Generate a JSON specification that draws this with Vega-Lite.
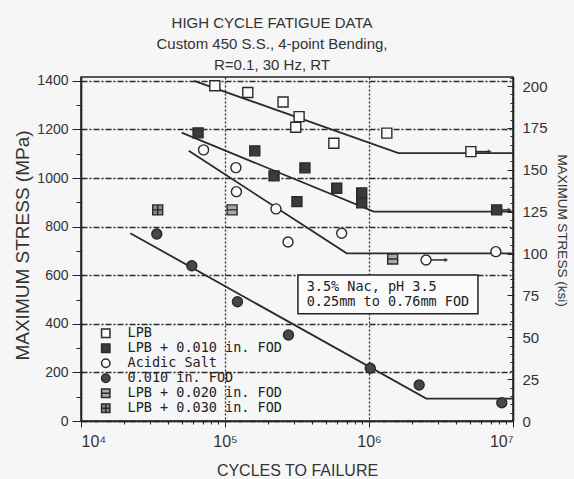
{
  "$schema": "https://vega.github.io/schema/vega-lite/v6.json",
  "width": 432,
  "height": 344,
  "autosize": {"type": "none"},
  "padding": {"left": 81, "top": 77, "right": 61, "bottom": 58},
  "background": "#f6f6f6",
  "config": {
    "font": "Liberation Sans",
    "view": {"stroke": "#222", "strokeWidth": 1.5},
    "axis": {"labelColor": "#333", "titleColor": "#333", "tickColor": "#222", "domainColor": "#222", "domainWidth": 1.5, "titleFontWeight": "normal", "labelFont": "Liberation Sans", "titleFont": "Liberation Sans"}
  },
  "title": {
    "text": ["HIGH CYCLE FATIGUE DATA", "Custom 450 S.S., 4-point Bending,", "R=0.1, 30 Hz, RT"],
    "fontSize": 15,
    "fontWeight": "normal",
    "font": "Liberation Sans",
    "color": "#333",
    "lineHeight": 21,
    "anchor": "middle",
    "frame": "group",
    "dx": -25,
    "offset": 1
  },
  "datasets": {
    "points": [
      {"series": "LPB", "cycles": 85000, "mpa": 1380},
      {"series": "LPB", "cycles": 144000, "mpa": 1352},
      {"series": "LPB", "cycles": 253000, "mpa": 1313},
      {"series": "LPB", "cycles": 327000, "mpa": 1253},
      {"series": "LPB", "cycles": 310000, "mpa": 1209},
      {"series": "LPB", "cycles": 570000, "mpa": 1143},
      {"series": "LPB", "cycles": 1330000, "mpa": 1185},
      {"series": "LPB", "cycles": 5100000, "mpa": 1109},
      {"series": "LPB + 0.010 in. FOD", "cycles": 65000, "mpa": 1186},
      {"series": "LPB + 0.010 in. FOD", "cycles": 161000, "mpa": 1112},
      {"series": "LPB + 0.010 in. FOD", "cycles": 219000, "mpa": 1009},
      {"series": "LPB + 0.010 in. FOD", "cycles": 359000, "mpa": 1042},
      {"series": "LPB + 0.010 in. FOD", "cycles": 316000, "mpa": 903},
      {"series": "LPB + 0.010 in. FOD", "cycles": 597000, "mpa": 958},
      {"series": "LPB + 0.010 in. FOD", "cycles": 890000, "mpa": 939},
      {"series": "LPB + 0.010 in. FOD", "cycles": 890000, "mpa": 898},
      {"series": "LPB + 0.010 in. FOD", "cycles": 7700000, "mpa": 869},
      {"series": "Acidic Salt", "cycles": 71000, "mpa": 1116},
      {"series": "Acidic Salt", "cycles": 119000, "mpa": 1043},
      {"series": "Acidic Salt", "cycles": 120000, "mpa": 944},
      {"series": "Acidic Salt", "cycles": 226000, "mpa": 873},
      {"series": "Acidic Salt", "cycles": 274000, "mpa": 737},
      {"series": "Acidic Salt", "cycles": 646000, "mpa": 773},
      {"series": "Acidic Salt", "cycles": 2490000, "mpa": 663},
      {"series": "Acidic Salt", "cycles": 7600000, "mpa": 697},
      {"series": "0.010 in. FOD", "cycles": 33600, "mpa": 770},
      {"series": "0.010 in. FOD", "cycles": 58800, "mpa": 639},
      {"series": "0.010 in. FOD", "cycles": 122000, "mpa": 491},
      {"series": "0.010 in. FOD", "cycles": 276000, "mpa": 354},
      {"series": "0.010 in. FOD", "cycles": 1020000, "mpa": 217},
      {"series": "0.010 in. FOD", "cycles": 2230000, "mpa": 148},
      {"series": "0.010 in. FOD", "cycles": 8360000, "mpa": 75},
      {"series": "LPB + 0.020 in. FOD", "cycles": 112000, "mpa": 869},
      {"series": "LPB + 0.020 in. FOD", "cycles": 1460000, "mpa": 667},
      {"series": "LPB + 0.030 in. FOD", "cycles": 34100, "mpa": 869}
    ],
    "lines": [
      {"line": "LPB", "ord": 1, "cycles": 61000, "mpa": 1400},
      {"line": "LPB", "ord": 2, "cycles": 1600000, "mpa": 1103},
      {"line": "LPB", "ord": 3, "cycles": 10000000, "mpa": 1103},
      {"line": "LPB010", "ord": 1, "cycles": 50000, "mpa": 1187},
      {"line": "LPB010", "ord": 2, "cycles": 1080000, "mpa": 862},
      {"line": "LPB010", "ord": 3, "cycles": 10000000, "mpa": 862},
      {"line": "Acidic", "ord": 1, "cycles": 56000, "mpa": 1112},
      {"line": "Acidic", "ord": 2, "cycles": 700000, "mpa": 690},
      {"line": "Acidic", "ord": 3, "cycles": 10000000, "mpa": 690},
      {"line": "FOD", "ord": 1, "cycles": 22000, "mpa": 773},
      {"line": "FOD", "ord": 2, "cycles": 2500000, "mpa": 92},
      {"line": "FOD", "ord": 3, "cycles": 10000000, "mpa": 92}
    ],
    "runouts": [
      {"cycles": 5100000, "end": 6900000, "mpa": 1109},
      {"cycles": 7700000, "end": 9500000, "mpa": 869},
      {"cycles": 2490000, "end": 3450000, "mpa": 663}
    ],
    "noteBox": [
      {"x1": 321000, "x2": 5710000, "y1": 441, "y2": 601}
    ],
    "note": [
      {"cycles": 369000, "mpa": 553, "text": "3.5% Nac, pH 3.5"},
      {"cycles": 369000, "mpa": 489, "text": "0.25mm to 0.76mm FOD"}
    ],
    "ksi": [{"ksi": 0}, {"ksi": 200}]
  },
  "layer": [
    {
      "layer": [
        {
          "data": {"name": "points"},
          "mark": {"type": "point", "opacity": 0},
          "encoding": {
            "x": {"field": "cycles", "type": "quantitative", "scale": {"type": "log", "domain": [10000, 10000000], "nice": false},
              "axis": {"orient": "bottom", "values": [20000, 30000, 40000, 50000, 60000, 70000, 80000, 90000, 200000, 300000, 400000, 500000, 600000, 700000, 800000, 900000, 2000000, 3000000, 4000000, 5000000, 6000000, 7000000, 8000000, 9000000], "labels": false, "domain": false, "grid": false, "tickSize": 3, "title": null}},
            "y": {"field": "mpa", "type": "quantitative", "scale": {"domain": [0, 1416], "nice": false, "zero": false},
              "axis": {"orient": "left", "values": [100, 300, 500, 700, 900, 1100, 1300], "labels": false, "domain": false, "grid": false, "tickSize": 5, "title": null}}
          }
        },
        {
          "data": {"name": "lines"},
          "mark": {"type": "line", "color": "#2a2a2a", "strokeWidth": 1.8},
          "encoding": {
            "x": {"field": "cycles", "type": "quantitative", "scale": {"type": "log", "domain": [10000, 10000000], "nice": false},
              "axis": {"orient": "bottom", "values": [10000, 100000, 1000000, 10000000],
                "labelExpr": "datum.value < 50000 ? '10⁴' : datum.value < 500000 ? '10⁵' : datum.value < 5000000 ? '10⁶' : '10⁷'",
                "title": "CYCLES TO FAILURE", "grid": true, "gridColor": "#2a2a2a", "gridDash": [2, 2], "gridWidth": 1.3,
                "tickSize": 6, "labelFontSize": 16, "labelPadding": 6, "titleFontSize": 16, "titleY": 49, "titleBaseline": "middle"}},
            "y": {"field": "mpa", "type": "quantitative", "scale": {"domain": [0, 1416], "nice": false, "zero": false},
              "axis": {"orient": "left", "values": [0, 200, 400, 600, 800, 1000, 1200, 1400], "format": "d", "title": "MAXIMUM STRESS (MPa)",
                "grid": true, "gridColor": "#2a2a2a", "gridDash": [6, 2, 2, 2], "gridWidth": 1.4,
                "tickSize": 9, "labelFontSize": 14, "labelPadding": 4, "titleFontSize": 19, "titleX": -59, "titleY": 168, "titleBaseline": "middle"}},
            "detail": {"field": "line"},
            "order": {"field": "ord"}
          }
        },
        {
          "data": {"name": "noteBox"},
          "mark": {"type": "rect", "fill": "#fbfbfb", "stroke": "#222", "strokeWidth": 1.5},
          "encoding": {
            "x": {"field": "x1", "type": "quantitative", "scale": {"type": "log", "domain": [10000, 10000000], "nice": false}, "axis": null},
            "x2": {"field": "x2"},
            "y": {"field": "y1", "type": "quantitative", "scale": {"domain": [0, 1416], "nice": false, "zero": false}, "axis": null},
            "y2": {"field": "y2"}
          }
        },
        {
          "data": {"name": "note"},
          "mark": {"type": "text", "align": "left", "baseline": "middle", "font": "DejaVu Sans Mono", "fontSize": 13.5, "color": "#222"},
          "encoding": {
            "x": {"field": "cycles", "type": "quantitative", "scale": {"type": "log", "domain": [10000, 10000000], "nice": false}, "axis": null},
            "y": {"field": "mpa", "type": "quantitative", "scale": {"domain": [0, 1416], "nice": false, "zero": false}, "axis": null},
            "text": {"field": "text"}
          }
        },
        {
          "data": {"name": "runouts"},
          "mark": {"type": "rule", "color": "#2a2a2a", "strokeWidth": 1.5},
          "encoding": {
            "x": {"field": "cycles", "type": "quantitative", "scale": {"type": "log", "domain": [10000, 10000000], "nice": false}, "axis": null},
            "x2": {"field": "end"},
            "y": {"field": "mpa", "type": "quantitative", "scale": {"domain": [0, 1416], "nice": false, "zero": false}, "axis": null}
          }
        },
        {
          "data": {"name": "runouts"},
          "mark": {"type": "point", "shape": "triangle-right", "filled": true, "color": "#2a2a2a", "size": 22},
          "encoding": {
            "x": {"field": "end", "type": "quantitative", "scale": {"type": "log", "domain": [10000, 10000000], "nice": false}, "axis": null},
            "y": {"field": "mpa", "type": "quantitative", "scale": {"domain": [0, 1416], "nice": false, "zero": false}, "axis": null}
          }
        },
        {
          "data": {"name": "points"},
          "mark": {"type": "point", "filled": true, "stroke": "#2a2a2a", "strokeWidth": 1.4, "opacity": 1, "size": 100},
          "encoding": {
            "x": {"field": "cycles", "type": "quantitative", "scale": {"type": "log", "domain": [10000, 10000000], "nice": false}, "axis": null},
            "y": {"field": "mpa", "type": "quantitative", "scale": {"domain": [0, 1416], "nice": false, "zero": false}, "axis": null},
            "shape": {"field": "series", "type": "nominal",
              "scale": {"domain": ["LPB", "LPB + 0.010 in. FOD", "Acidic Salt", "0.010 in. FOD", "LPB + 0.020 in. FOD", "LPB + 0.030 in. FOD"],
                "range": ["square", "square", "circle", "circle", "M-1,-1H1V1H-1Z M-1,0H1", "M-1,-1H1V1H-1Z M-1,0H1 M0,-1V1"]},
              "legend": {"orient": "none", "legendX": 18, "legendY": 249.5, "title": null, "padding": 0,
                "labelFont": "DejaVu Sans Mono", "labelFontSize": 13.5, "labelColor": "#222", "labelOffset": 15, "labelLimit": 300,
                "symbolSize": 70, "rowPadding": 0,
                "encode": {"symbols": {"update": {"stroke": {"value": "#2a2a2a"}, "strokeWidth": {"value": 1.4}, "opacity": {"value": 1}}}}}},
            "fill": {"field": "series", "type": "nominal",
              "scale": {"domain": ["LPB", "LPB + 0.010 in. FOD", "Acidic Salt", "0.010 in. FOD", "LPB + 0.020 in. FOD", "LPB + 0.030 in. FOD"],
                "range": ["#fafafa", "#3a3a3a", "#fafafa", "#474747", "#a8a8a8", "#8a8a8a"]},
              "legend": {"orient": "none", "legendX": 18, "legendY": 249.5, "title": null, "padding": 0,
                "labelFont": "DejaVu Sans Mono", "labelFontSize": 13.5, "labelColor": "#222", "labelOffset": 15, "labelLimit": 300,
                "symbolSize": 70, "rowPadding": 0,
                "encode": {"symbols": {"update": {"stroke": {"value": "#2a2a2a"}, "strokeWidth": {"value": 1.4}, "opacity": {"value": 1}}}}}}
          }
        }
      ],
      "resolve": {"axis": {"x": "independent", "y": "independent"}}
    },
    {
      "data": {"name": "ksi"},
      "layer": [
        {
          "mark": {"type": "rule", "opacity": 0},
          "encoding": {
            "y": {"field": "ksi", "type": "quantitative", "scale": {"domain": [0, 205.4], "nice": false, "zero": false},
              "axis": {"orient": "right", "values": [0, 25, 50, 75, 100, 125, 150, 175, 200], "title": "MAXIMUM STRESS (ksi)",
                "grid": false, "tickSize": -6, "labelPadding": 15, "labelFontSize": 15, "titleFontSize": 13.5,
                "titleAngle": 90, "titleX": 48, "titleY": 153, "titleBaseline": "middle"}}
          }
        },
        {
          "mark": {"type": "rule", "opacity": 0},
          "encoding": {
            "y": {"field": "ksi", "type": "quantitative", "scale": {"domain": [0, 205.4], "nice": false, "zero": false},
              "axis": {"orient": "right", "values": [5, 10, 15, 20, 30, 35, 40, 45, 55, 60, 65, 70, 80, 85, 90, 95, 105, 110, 115, 120, 130, 135, 140, 145, 155, 160, 165, 170, 180, 185, 190, 195, 205],
                "labels": false, "domain": false, "grid": false, "tickSize": -3, "title": null}}
          }
        }
      ],
      "resolve": {"axis": {"y": "independent"}}
    }
  ],
  "resolve": {"scale": {"y": "independent"}}
}
